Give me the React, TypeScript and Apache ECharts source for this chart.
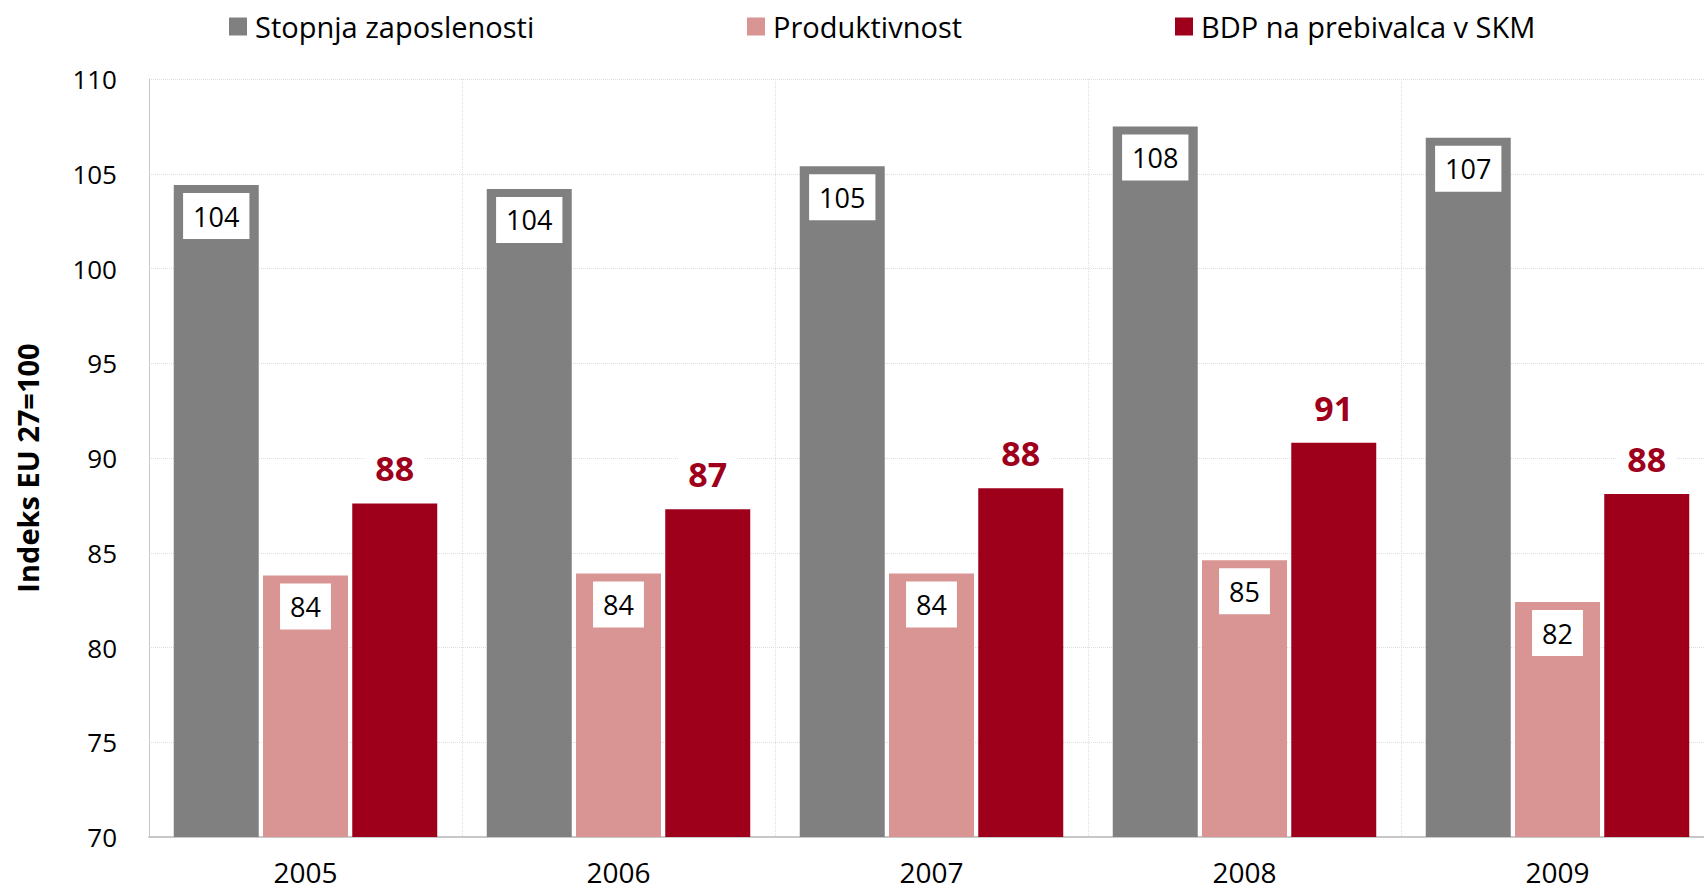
import React, { useEffect, useRef } from "react";
import * as echarts from "echarts";

const years = ["2005", "2006", "2007", "2008", "2009"];
const zaposlenost = [104.4, 104.2, 105.4, 107.5, 106.9];
const zaposlenostLabels = [104, 104, 105, 108, 107];
const produktivnost = [83.8, 83.9, 83.9, 84.6, 82.4];
const produktivnostLabels = [84, 84, 84, 85, 82];
const bdp = [87.6, 87.3, 88.4, 90.8, 88.1];
const bdpLabels = [88, 87, 88, 91, 88];
const yTitle = "Indeks EU 27=100";

const FONT = "'Open Sans', sans-serif";

export default function App() {
  const ref = useRef<HTMLDivElement>(null);
  useEffect(() => {
    if (!ref.current) return;
    const chart = echarts.init(ref.current, null, { renderer: "svg" });
    const boxLabel = (labels: number[]) => ({
      show: true,
      position: "insideTop",
      distance: 8,
      color: "#000",
      fontFamily: FONT,
      fontSize: 27,
      lineHeight: 30,
      backgroundColor: "#fff",
      padding: [8, 10, 8, 10],
      formatter: (p: any) => String(labels[p.dataIndex]),
    });
    const legendBase = {
      top: 7,
      itemWidth: 18,
      itemHeight: 18,
      icon: "rect",
      textStyle: { fontSize: 29, color: "#000", fontFamily: FONT, padding: [0, 0, 0, 3] },
    };
    chart.setOption({
      animation: false,
      textStyle: { fontFamily: FONT },
      legend: [
        { ...legendBase, data: ["Stopnja zaposlenosti"], left: 224 },
        { ...legendBase, data: ["Produktivnost"], left: 742 },
        { ...legendBase, data: ["BDP na prebivalca v SKM"], left: 1170 },
      ],
      graphic: [
        {
          type: "text",
          x: 27,
          y: 468,
          rotation: Math.PI / 2,
          style: {
            text: yTitle,
            fontSize: 29,
            fontWeight: "bold",
            fontFamily: FONT,
            fill: "#000",
            textAlign: "center",
            textVerticalAlign: "middle",
          },
        },
      ],
      grid: {
        left: 149,
        top: 79,
        width: 1565,
        height: 758,
        containLabel: false,
        outerBoundsMode: "none",
        show: false,
      },
      xAxis: {
        type: "category",
        data: years,
        axisLine: { show: true, lineStyle: { color: "#c8c8c8", width: 2 } },
        axisTick: { show: false },
        axisLabel: { fontSize: 28, lineHeight: 24, color: "#000", margin: 23, fontFamily: FONT },
        splitLine: { show: true, lineStyle: { color: "#dedede", width: 1, type: "dotted" } },
      },
      yAxis: {
        type: "value",
        min: 70,
        max: 110,
        interval: 5,
        axisLine: { show: true, lineStyle: { color: "#c8c8c8", width: 1 } },
        axisTick: { show: false },
        axisLabel: { fontSize: 26, color: "#000", margin: 32, fontFamily: FONT },
        splitLine: { show: true, lineStyle: { color: "#dedede", width: 1, type: "dotted" } },
      },
      series: [
        {
          name: "Stopnja zaposlenosti",
          type: "bar",
          data: zaposlenost,
          barWidth: 85,
          barGap: "5%",
          itemStyle: { color: "#808080" },
          label: boxLabel(zaposlenostLabels),
        },
        {
          name: "Produktivnost",
          type: "bar",
          data: produktivnost,
          barWidth: 85,
          barGap: "5%",
          itemStyle: { color: "#d89594" },
          label: boxLabel(produktivnostLabels),
        },
        {
          name: "BDP na prebivalca v SKM",
          type: "bar",
          data: bdp,
          barWidth: 85,
          barGap: "5%",
          itemStyle: { color: "#9e001c" },
          label: {
            show: true,
            position: "top",
            distance: 16,
            color: "#9e001c",
            fontFamily: FONT,
            fontSize: 34,
            lineHeight: 34,
            fontWeight: "bold",
            backgroundColor: "#fff",
            padding: [2, 10, 2, 10],
            formatter: (p: any) => String(bdpLabels[p.dataIndex]),
          },
        },
      ],
    });
    return () => chart.dispose();
  }, []);
  return (
    <div
      ref={ref}
      style={{ position: "fixed", left: 0, top: 0, width: 1704, height: 891, background: "#fff" }}
    />
  );
}
